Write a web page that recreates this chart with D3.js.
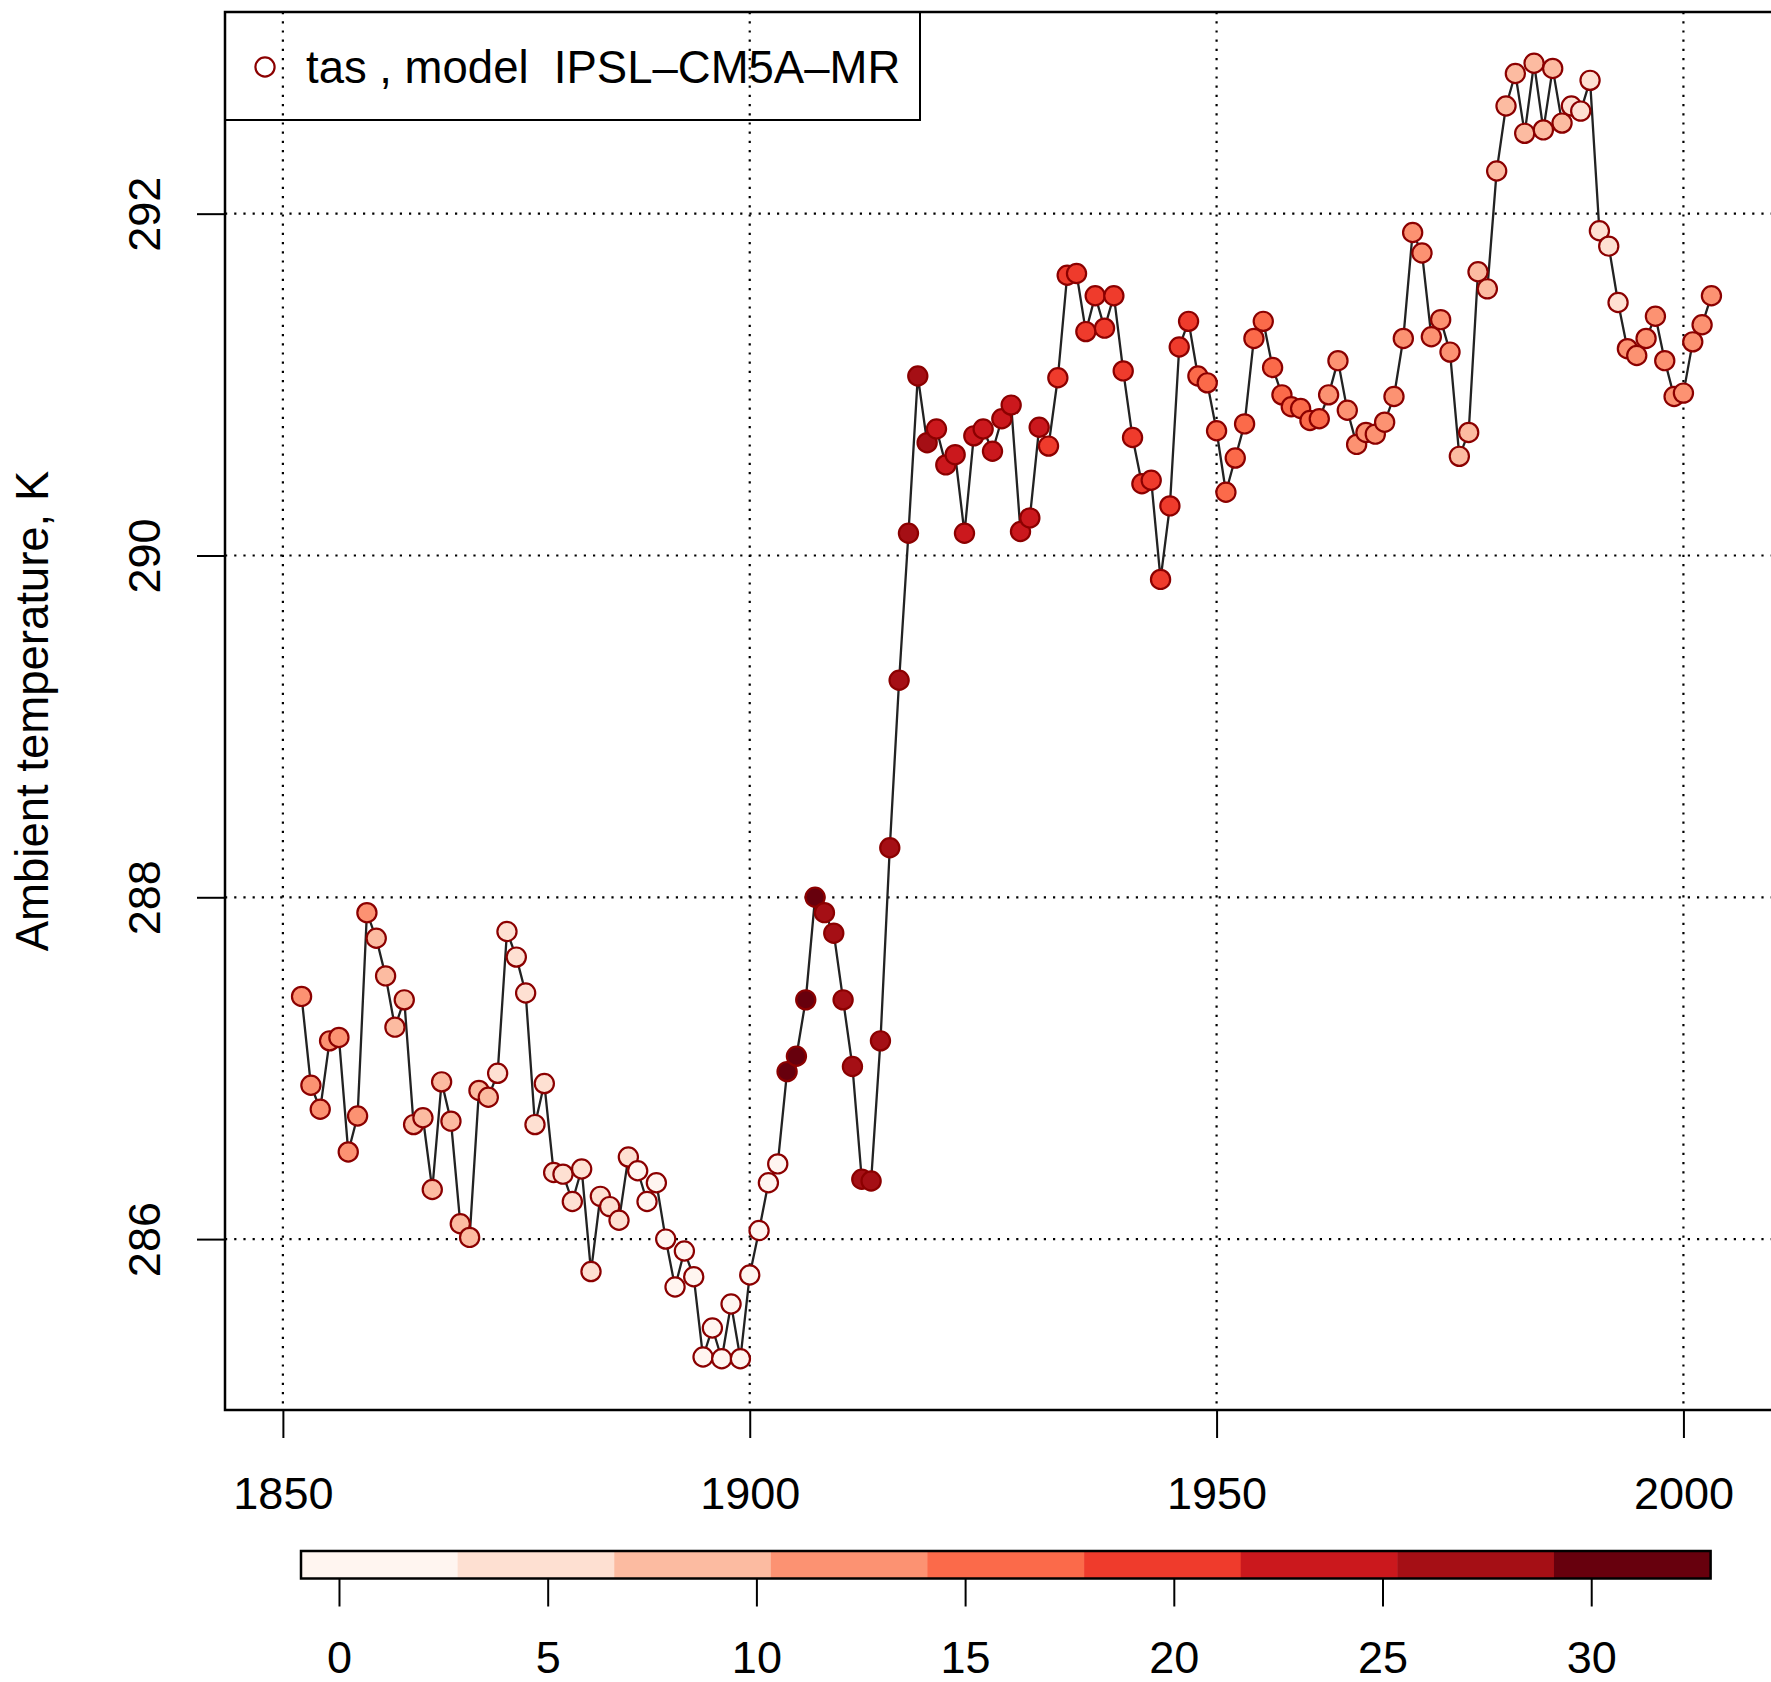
<!DOCTYPE html>
<html>
<head>
<meta charset="utf-8">
<script src="https://cdn.jsdelivr.net/npm/d3@7"></script>
<style>
  body { margin: 0; background: #fff; }
  svg text { font-family: Helvetica, Arial, "Liberation Sans", sans-serif; fill: #000; }
</style>
</head>
<body>
<div id="chart"></div>
<script>
// Data
var years = [
  1852, 1853, 1854, 1855, 1856, 1857, 1858, 1859, 1860, 1861,
  1862, 1863, 1864, 1865, 1866, 1867, 1868, 1869, 1870, 1871,
  1872, 1873, 1874, 1875, 1876, 1877, 1878, 1879, 1880, 1881,
  1882, 1883, 1884, 1885, 1886, 1887, 1888, 1889, 1890, 1891,
  1892, 1893, 1894, 1895, 1896, 1897, 1898, 1899, 1900, 1901,
  1902, 1903, 1904, 1905, 1906, 1907, 1908, 1909, 1910, 1911,
  1912, 1913, 1914, 1915, 1916, 1917, 1918, 1919, 1920, 1921,
  1922, 1923, 1924, 1925, 1926, 1927, 1928, 1929, 1930, 1931,
  1932, 1933, 1934, 1935, 1936, 1937, 1938, 1939, 1940, 1941,
  1942, 1943, 1944, 1945, 1946, 1947, 1948, 1949, 1950, 1951,
  1952, 1953, 1954, 1955, 1956, 1957, 1958, 1959, 1960, 1961,
  1962, 1963, 1964, 1965, 1966, 1967, 1968, 1969, 1970, 1971,
  1972, 1973, 1974, 1975, 1976, 1977, 1978, 1979, 1980, 1981,
  1982, 1983, 1984, 1985, 1986, 1987, 1988, 1989, 1990, 1991,
  1992, 1993, 1994, 1995, 1996, 1997, 1998, 1999, 2000, 2001,
  2002, 2003
];

var tas = [
  287.42, 286.90, 286.76, 287.16, 287.18, 286.51, 286.72, 287.91, 287.76, 287.54,
  287.24, 287.40, 286.67, 286.71, 286.29, 286.92, 286.69, 286.09, 286.01, 286.87,
  286.83, 286.97, 287.80, 287.65, 287.44, 286.67, 286.91, 286.39, 286.38, 286.22,
  286.41, 285.81, 286.25, 286.19, 286.11, 286.48, 286.40, 286.22, 286.33, 286.00,
  285.72, 285.93, 285.78, 285.31, 285.48, 285.30, 285.62, 285.30, 285.79, 286.05,
  286.33, 286.44, 286.98, 287.07, 287.40, 288.00, 287.91, 287.79, 287.40, 287.01,
  286.35, 286.34, 287.16, 288.29, 289.27, 290.13, 291.05, 290.66, 290.74, 290.53,
  290.59, 290.13, 290.70, 290.74, 290.61, 290.80, 290.88, 290.14, 290.22, 290.75,
  290.64, 291.04, 291.64, 291.65, 291.31, 291.52, 291.33, 291.52, 291.08, 290.69,
  290.42, 290.44, 289.86, 290.29, 291.22, 291.37, 291.05, 291.01, 290.73, 290.37,
  290.57, 290.77, 291.27, 291.37, 291.10, 290.94, 290.87, 290.86, 290.79, 290.80,
  290.94, 291.14, 290.85, 290.65, 290.72, 290.71, 290.78, 290.93, 291.27, 291.89,
  291.77, 291.28, 291.38, 291.19, 290.58, 290.72, 291.66, 291.56, 292.25, 292.63,
  292.82, 292.47, 292.88, 292.49, 292.85, 292.53, 292.63, 292.60, 292.78, 291.90,
  291.81, 291.48, 291.21, 291.17, 291.27, 291.40, 291.14, 290.93, 290.95, 291.25,
  291.35, 291.52
];

// colour variable, estimated from each point's fill
var shade = [
  13.9, 13.6, 13.3, 13.0, 12.7, 12.4, 12.1, 11.8,
  10.3, 10.0, 9.7, 9.4, 9.1, 8.8, 8.5, 8.2, 7.9, 7.6, 7.3, 7.0,
  6.6, 6.3, 6.1, 5.8, 5.6, 5.3, 5.1, 4.8, 4.6, 4.3, 4.1, 3.8, 3.6, 3.4, 3.2, 3.0,
  2.7, 2.5, 2.3, 2.1, 1.9, 1.7, 1.5, 1.3, 1.1, 0.9, 0.7, 0.5, 0.2, 0.0, -0.3, -0.6,
  32.5, 31.8, 30.9, 29.8,
  29.0, 28.7, 28.4, 28.1, 27.8, 27.5, 27.2, 26.9, 26.6, 26.3, 26.0, 25.6,
  25.2, 24.9, 24.6, 24.3, 24.0, 23.7, 23.4, 23.1, 22.8, 22.5, 22.2, 21.9,
  21.5, 21.3, 21.0, 20.8, 20.5, 20.3, 20.0, 19.8, 19.5, 19.3, 19.0, 18.8, 18.6, 18.4, 18.2, 18.0,
  17.7, 17.4, 17.1, 16.8, 16.5, 16.2, 15.9, 15.6, 15.3, 15.0, 14.8, 14.6, 14.4, 14.2,
  14.0, 13.7, 13.5, 13.2, 13.0, 12.7, 12.4, 12.1, 11.8, 11.5, 11.2, 11.0, 10.7, 10.5,
  10.2, 9.9, 9.6, 9.3, 9.0, 8.7, 8.4, 8.1, 7.8, 7.5, 7.2, 6.9,
  6.4, 6.1, 5.8, 5.5, 5.2, 4.9,
  13.8, 13.5, 13.2, 12.9, 12.6, 12.3, 12.0, 11.7, 11.4, 11.1
];

var xTicks = [1850, 1900, 1950, 2000];
var yTicks = [286, 288, 290, 292];
var barColors = ["#FFF5F0", "#FEE0D2", "#FCBBA1", "#FC9272", "#FB6A4A",
                 "#EF3B2C", "#CB181D", "#A50F15", "#67000D"];
var barRange = [-0.91, 32.86];
var barTicks = [0, 5, 10, 15, 20, 25, 30];
var legendLabel = "tas , model  IPSL\u2013CM5A\u2013MR";
var yLabel = "Ambient temperature, K";

var width = 1771, height = 1682;
var fontSize = 45;
var fontFamily = "Helvetica, Arial, 'Liberation Sans', sans-serif";

var svg = d3.select("#chart").append("svg")
    .attr("width", width)
    .attr("height", height);

// plot region (R style: limits padded 4%)
var xlim = [1843.8, 2011.2], ylim = [285.0, 293.18];
var x = d3.scaleLinear().domain(xlim).range([225, 1788]);
var y = d3.scaleLinear().domain(ylim).range([1410, 12]);
var color = d3.scaleQuantize().domain(barRange).range(barColors);

// dotted grid
svg.append("g").selectAll("line.v")
    .data(xTicks).enter().append("line")
    .attr("x1", function(d) { return x(d); })
    .attr("x2", function(d) { return x(d); })
    .attr("y1", y(ylim[1]))
    .attr("y2", y(ylim[0]))
    .attr("stroke", "#000")
    .attr("stroke-width", 2.2)
    .attr("stroke-dasharray", "2.2,7");

svg.append("g").selectAll("line.h")
    .data(yTicks).enter().append("line")
    .attr("x1", x(xlim[0]))
    .attr("x2", x(xlim[1]))
    .attr("y1", function(d) { return y(d); })
    .attr("y2", function(d) { return y(d); })
    .attr("stroke", "#000")
    .attr("stroke-width", 2.2)
    .attr("stroke-dasharray", "2.2,7");

// line + points
var line = d3.line()
    .x(function(d, i) { return x(years[i]); })
    .y(function(d) { return y(d); });

svg.append("path")
    .datum(tas)
    .attr("fill", "none")
    .attr("stroke", "#222")
    .attr("stroke-width", 2.3)
    .attr("stroke-linejoin", "round")
    .attr("d", line);

svg.append("g").selectAll("circle")
    .data(tas).enter().append("circle")
    .attr("cx", function(d, i) { return x(years[i]); })
    .attr("cy", function(d) { return y(d); })
    .attr("r", 9.6)
    .attr("fill", function(d, i) { return color(shade[i]); })
    .attr("stroke", "#8B0000")
    .attr("stroke-width", 2.2);

// box
svg.append("rect")
    .attr("x", x(xlim[0]))
    .attr("y", y(ylim[1]))
    .attr("width", x(xlim[1]) - x(xlim[0]))
    .attr("height", y(ylim[0]) - y(ylim[1]))
    .attr("fill", "none")
    .attr("stroke", "#000")
    .attr("stroke-width", 2.5);

// x axis
var xAxis = svg.append("g")
    .attr("transform", "translate(0," + y(ylim[0]) + ")")
    .call(d3.axisBottom(x).tickValues(xTicks).tickSize(28).tickPadding(39).tickFormat(d3.format("d")));
xAxis.select(".domain").remove();
xAxis.selectAll("line").attr("stroke-width", 2);
xAxis.selectAll("text").style("font-size", fontSize + "px").style("font-family", fontFamily);

// y axis, labels turned like R's las=0
var yAxis = svg.append("g")
    .attr("transform", "translate(" + x(xlim[0]) + ",0)")
    .call(d3.axisLeft(y).tickValues(yTicks).tickSize(28));
yAxis.select(".domain").remove();
yAxis.selectAll("line").attr("stroke-width", 2);
yAxis.selectAll("text")
    .attr("x", 0).attr("dy", 0)
    .attr("text-anchor", "middle")
    .attr("transform", "translate(-65,0) rotate(-90)")
    .style("font-size", fontSize + "px")
    .style("font-family", fontFamily);

svg.append("text")
    .attr("transform", "translate(48," + ((y(ylim[0]) + y(ylim[1])) / 2) + ") rotate(-90)")
    .attr("text-anchor", "middle")
    .style("font-size", (fontSize + 0.5) + "px")
    .text(yLabel);

// legend
svg.append("rect")
    .attr("x", 225).attr("y", 12)
    .attr("width", 695).attr("height", 108)
    .attr("fill", "none")
    .attr("stroke", "#000")
    .attr("stroke-width", 2);
svg.append("circle")
    .attr("cx", 265).attr("cy", 67).attr("r", 9.6)
    .attr("fill", "none")
    .attr("stroke", "#8B0000")
    .attr("stroke-width", 2.2);
svg.append("text")
    .attr("x", 306).attr("y", 83)
    .style("font-size", (fontSize + 0.5) + "px")
    .style("white-space", "pre")
    .attr("xml:space", "preserve")
    .text(legendLabel);

// colour bar
var bx = d3.scaleLinear().domain(barRange).range([301, 1710.6]);
var step = (barRange[1] - barRange[0]) / barColors.length;
var barTop = 1551, barBottom = 1578.5;

svg.append("g").selectAll("rect")
    .data(barColors).enter().append("rect")
    .attr("x", function(d, i) { return bx(barRange[0] + i * step); })
    .attr("width", function(d, i) { return bx(barRange[0] + (i + 1) * step) - bx(barRange[0] + i * step) + 0.5; })
    .attr("y", barTop)
    .attr("height", barBottom - barTop)
    .attr("fill", function(d) { return d; });

svg.append("rect")
    .attr("x", bx(barRange[0])).attr("y", barTop)
    .attr("width", bx(barRange[1]) - bx(barRange[0]))
    .attr("height", barBottom - barTop)
    .attr("fill", "none")
    .attr("stroke", "#000")
    .attr("stroke-width", 2.5);

var barAxis = svg.append("g")
    .attr("transform", "translate(0," + barBottom + ")")
    .call(d3.axisBottom(bx).tickValues(barTicks).tickSize(28).tickPadding(35));
barAxis.select(".domain").remove();
barAxis.selectAll("line").attr("stroke-width", 2);
barAxis.selectAll("text").style("font-size", fontSize + "px").style("font-family", fontFamily);
</script>
</body>
</html>
